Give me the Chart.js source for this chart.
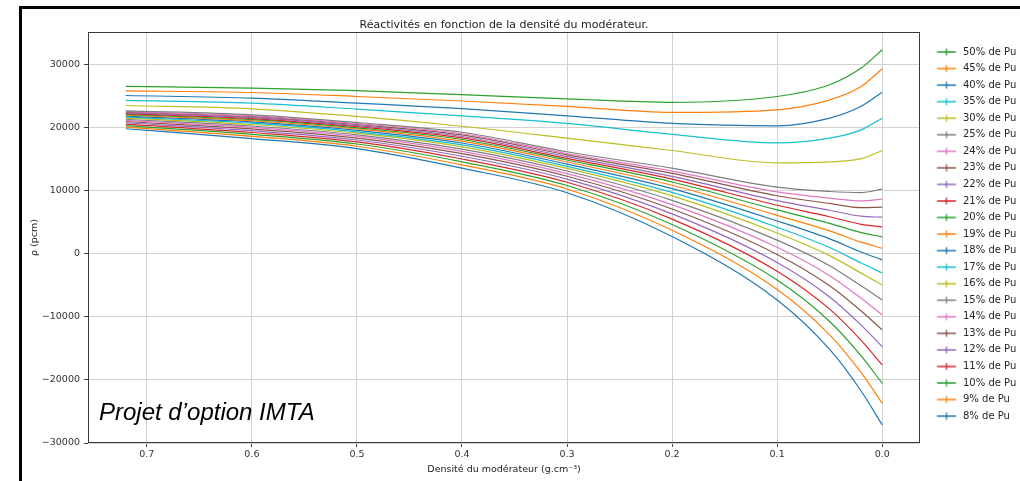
<!DOCTYPE html>
<html lang="fr">
<head>
<meta charset="utf-8">
<title>Réactivités en fonction de la densité du modérateur</title>
<script src="https://cdn.jsdelivr.net/npm/chart.js@4.4.0/dist/chart.umd.min.js"></script>
<style>
  html, body { margin: 0; padding: 0; background: #fff; }
  #wrap { position: relative; width: 1020px; height: 481px; overflow: hidden; background: #fff; }
  #reactChart { position: absolute; left: 0; top: 0; }
  #cadre { position: absolute; left: 19px; top: 6px; right: 0; bottom: 0; border-left: 3px solid #000; border-top: 3px solid #000; pointer-events: none; }
  #mention { position: absolute; left: 99px; top: 400px; font: italic 24px/24px 'Liberation Sans', Arial, sans-serif; color: #000; white-space: nowrap; }
</style>
</head>
<body>
<div id="wrap">
  <canvas id="reactChart" width="1020" height="481"></canvas>
  <div id="cadre"></div>
  <div id="mention">Projet d’option IMTA</div>
</div>
<script>
// Densité du modérateur (g.cm-3), de la plus forte à la plus faible
const densites = [0.72, 0.6, 0.5, 0.4, 0.3, 0.2, 0.1, 0.05, 0.02, 0.0];

// Teneurs en Pu (%), dans l'ordre de tracé
const teneurs = [8, 9, 10, 11, 12, 13, 14, 15, 16, 17, 18, 19, 20, 21, 22, 23, 24, 25, 30, 35, 40, 45, 50];

// Réactivité (pcm) pour chaque teneur, aux densités ci-dessus
const rho8  = [19850, 18300, 16700, 13600,  9700,  2750, -7300, -15150, -21750, -27140];
const rho9  = [20110, 18650, 17080, 14120, 10300,  3750, -5660, -12850, -18850, -23700];
const rho10 = [20350, 18970, 17430, 14610, 10850,  4670, -4140, -10720, -16180, -20530];
const rho11 = [20580, 19260, 17760, 15050, 11360,  5520, -2740,  -8760, -13720, -17620];
const rho12 = [20800, 19550, 18070, 15490, 11860,  6350, -1360,  -6830, -11300, -14710];
const rho13 = [21000, 19820, 18370, 15900, 12320,  7120,   -90,  -5060,  -9060, -12060];
const rho14 = [21180, 20060, 18630, 16260, 12740,  7820,  1050,  -3450,  -7050,  -9680];
const rho15 = [21360, 20290, 18890, 16620, 13150,  8500,  2180,  -1870,  -5070,  -7300];
const rho16 = [21540, 20530, 19160, 16990, 13560,  9200,  3320,   -270,  -3050,  -4920];
const rho17 = [21690, 20730, 19370, 17280, 13890,  9750,  4230,   1010,  -1450,  -3020];
const rho18 = [21850, 20930, 19600, 17590, 14250, 10350,  5220,   2390,    290,   -950];
const rho19 = [21990, 21120, 19810, 17880, 14580, 10890,  6110,   3640,   1860,    900];
const rho20 = [22120, 21300, 20000, 18150, 14890, 11410,  6970,   4840,   3370,   2700];
const rho21 = [22240, 21460, 20180, 18390, 15160, 11860,  7720,   5890,   4690,   4290];
const rho22 = [22360, 21610, 20350, 18620, 15430, 12310,  8450,   6920,   5980,   5820];
const rho23 = [22480, 21770, 20530, 18870, 15710, 12780,  9220,   8000,   7340,   7410];
const rho24 = [22580, 21900, 20670, 19060, 15930, 13140,  9830,   8850,   8410,   8680];
const rho25 = [22700, 22060, 20840, 19300, 16200, 13600, 10580,   9900,   9730,  10270];
const rho30 = [23540, 23020, 21800, 20250, 18360, 16400, 14450,  14600,  15100,  16400];
const rho35 = [24340, 23910, 22960, 21900, 20700, 18950, 17600,  18360,  19680,  21530];
const rho40 = [25130, 24710, 23910, 23050, 21900, 20700, 20320,  21530,  23410,  25660];
const rho45 = [25870, 25600, 24970, 24250, 23400, 22450, 22860,  24440,  26560,  29370];
const rho50 = [26560, 26300, 25900, 25250, 24600, 24050, 24970,  26830,  29480,  32380];

const reactivites = [rho8, rho9, rho10, rho11, rho12, rho13, rho14, rho15, rho16, rho17, rho18,
                     rho19, rho20, rho21, rho22, rho23, rho24, rho25, rho30, rho35, rho40, rho45, rho50];

// Graduations
const xTicks = [0.7, 0.6, 0.5, 0.4, 0.3, 0.2, 0.1, 0.0];
const yTicks = [-30000, -20000, -10000, 0, 10000, 20000, 30000];

// Cycle de couleurs type matplotlib
const palette = ['#1f77b4', '#ff7f0e', '#2ca02c', '#d62728', '#9467bd',
                 '#8c564b', '#e377c2', '#7f7f7f', '#bcbd22', '#17becf'];

const police = "'DejaVu Sans', 'Liberation Sans', sans-serif";

// Symbole de légende : trait horizontal + petite barre verticale (style errorbar)
function marqueurLegende(couleur) {
    const c = document.createElement('canvas');
    c.width = 40;
    c.height = 12;
    const g = c.getContext('2d');
    g.strokeStyle = couleur;
    g.lineWidth = 1.3;
    g.beginPath();
    g.moveTo(14.7, 6);
    g.lineTo(33.7, 6);
    g.moveTo(24.2, 2.5);
    g.lineTo(24.2, 9.5);
    g.stroke();
    return c;
}

// Cadre complet autour de la zone de tracé
const cadreAxes = {
    id: 'cadreAxes',
    afterDatasetsDraw(chart) {
        const {ctx, chartArea: a} = chart;
        ctx.save();
        ctx.strokeStyle = '#3a3a3a';
        ctx.lineWidth = 1;
        ctx.strokeRect(Math.round(a.left) + 0.5, Math.round(a.top) + 0.5,
                       Math.round(a.width) - 1, Math.round(a.height) - 1);
        ctx.restore();
    }
};

const datasets = teneurs.map((t, i) => {
    const couleur = palette[i % palette.length];
    return {
        label: `${t}% de Pu`,
        data: densites.map((d, k) => ({ x: d, y: reactivites[i][k] })),
        borderColor: couleur,
        backgroundColor: couleur,
        borderWidth: 1.2,
        pointRadius: 0,
        pointHoverRadius: 0,
        pointStyle: marqueurLegende(couleur),
        cubicInterpolationMode: 'monotone',
        fill: false,
        // les fortes teneurs passent au-dessus et en tête de légende
        order: teneurs.length - i
    };
});

new Chart(document.getElementById('reactChart'), {
    type: 'line',
    data: { datasets },
    plugins: [cadreAxes],
    options: {
        responsive: false,
        animation: false,
        events: [],
        layout: { padding: { left: 0, right: 0, top: 0, bottom: 0 } },
        plugins: {
            title: {
                display: true,
                text: 'Réactivités en fonction de la densité du modérateur.',
                fullSize: false,
                color: '#222',
                font: { family: police, size: 11, weight: 'normal', lineHeight: 1.2 },
                padding: { top: 18.4, bottom: 0.4 }
            },
            legend: {
                position: 'right',
                align: 'start',
                fullSize: false,
                maxWidth: 100,
                title: {
                    display: true,
                    text: '',
                    font: { size: 1, lineHeight: 1 },
                    padding: { top: 7.45, bottom: 0 }
                },
                labels: {
                    usePointStyle: true,
                    pointStyleWidth: 31.45,
                    boxHeight: 10,
                    padding: 6.55,
                    color: '#262626',
                    font: { family: police, size: 10 }
                }
            },
            tooltip: { enabled: false }
        },
        scales: {
            x: {
                type: 'linear',
                reverse: true,
                min: -0.036,
                max: 0.756,
                afterBuildTicks: (s) => { s.ticks = xTicks.map(v => ({ value: v })); },
                afterFit: (s) => { s.height = 38; },
                border: { display: false },
                grid: { color: '#d2d2d2', lineWidth: 1, tickLength: 4, tickColor: '#444' },
                ticks: {
                    color: '#333',
                    padding: 2.3,
                    maxRotation: 0,
                    autoSkip: false,
                    font: { family: police, size: 9.5 },
                    callback: (v) => Number(v).toFixed(1)
                },
                title: {
                    display: true,
                    text: 'Densité du modérateur (g.cm⁻³)',
                    color: '#222',
                    font: { family: police, size: 9.5, lineHeight: 1.2 },
                    padding: { top: 0, bottom: 5.3 }
                }
            },
            y: {
                type: 'linear',
                min: -30000,
                max: 35200,
                afterBuildTicks: (s) => { s.ticks = yTicks.map(v => ({ value: v })); },
                afterFit: (s) => { s.width = 88; },
                border: { display: false },
                grid: { color: '#d2d2d2', lineWidth: 1, tickLength: 4, tickColor: '#444' },
                ticks: {
                    color: '#333',
                    padding: 4,
                    font: { family: police, size: 9.5 },
                    callback: (v) => String(v).replace('-', '\u2212')
                },
                title: {
                    display: true,
                    text: 'ρ (pcm)',
                    color: '#222',
                    font: { family: police, size: 9.5, lineHeight: 1.2 },
                    padding: { top: 29.3, bottom: 0 }
                }
            }
        }
    }
});
</script>
</body>
</html>
